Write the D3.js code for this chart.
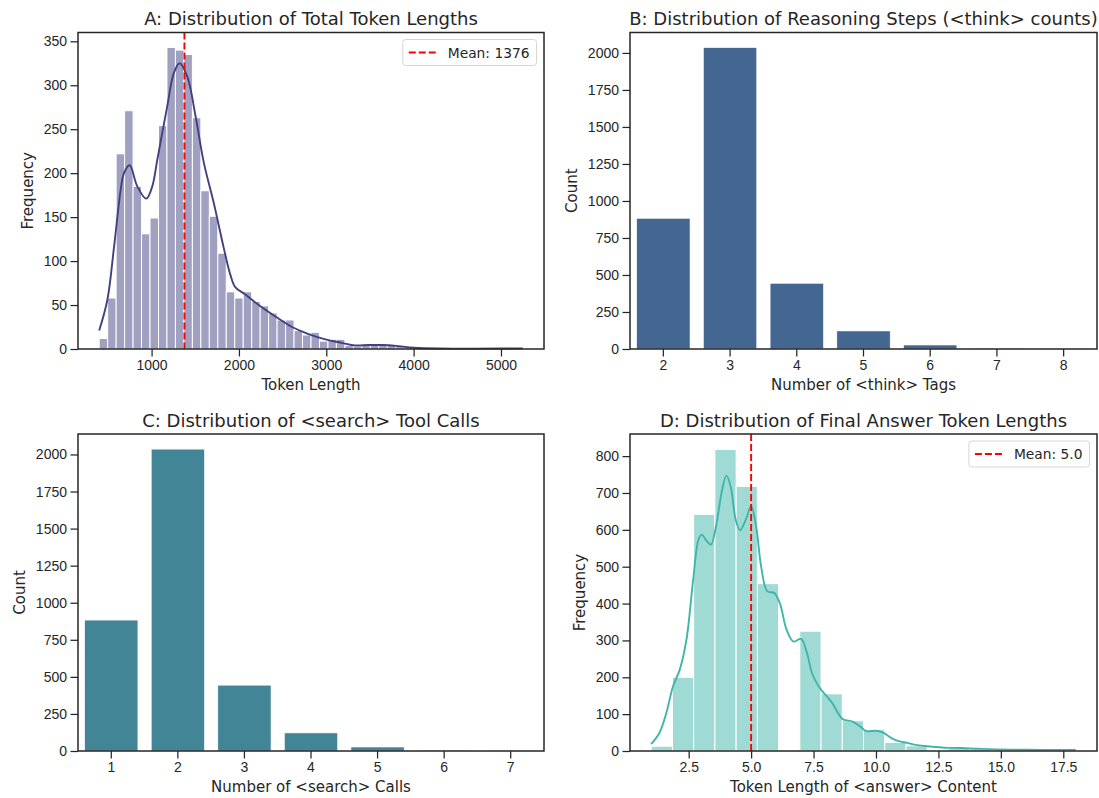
<!DOCTYPE html>
<html>
<head>
<meta charset="utf-8">
<script src="https://cdn.jsdelivr.net/npm/d3@7"></script>
<style>
  body { margin: 0; background: #fff; }
  svg { display: block; font-family: "DejaVu Sans", sans-serif; }
  .tick text { fill: #262626; font-size: 14px; }
  .tick line { stroke: #262626; stroke-width: 1.25; }
</style>
</head>
<body>
<div id="chart"></div>
<script>
// ---- data ----

// A: total token length histogram (50 bins from 400, width 97)
var tokenBinStart = 400;
var tokenBinWidth = 97;
var tokenCounts = [12, 58, 222, 271, 185, 131, 149, 254, 343, 340,
                   335, 263, 180, 151, 109, 65, 58, 65, 54, 49,
                   41, 33, 33, 21, 16, 19, 9, 11, 11, 4,
                   3, 4, 5, 4, 5, 4, 3, 3, 2, 2,
                   1, 1, 1, 1, 0, 1, 0, 1, 0, 1];
var tokenKdeX = [400, 494, 570, 646, 684, 749, 836, 939, 1008, 1065, 1179, 1255, 1320, 1408,
                 1503, 1598, 1712, 1826, 1903, 1960, 2074, 2226, 2417, 2608, 2798, 2989,
                 3179, 3331, 3483, 3650, 3800, 4000, 4300, 4700, 5000, 5250];
var tokenKdeY = [21, 56, 116, 181, 200, 209, 185, 171, 185, 215, 276, 314, 325, 310,
                 265, 212, 166, 115, 84, 70, 62, 50, 37, 25, 17, 11,
                 7, 4, 4.5, 4.5, 3.5, 1.5, 0.6, 0.4, 0.5, 0.7];
var tokenMean = 1376;
var tokenTicks = [1000, 2000, 3000, 4000, 5000];

// B: <think> tag counts
var thinkCategories = ['2', '3', '4', '5', '6', '7', '8'];
var thinkCounts = [883, 2036, 444, 122, 27, 2, 1];

// C: <search> call counts
var searchCategories = ['1', '2', '3', '4', '5', '6', '7'];
var searchCounts = [883, 2036, 444, 122, 27, 2, 1];

// D: answer token length histogram (20 bins from 1, width 0.85)
var answerBinStart = 1;
var answerBinWidth = 0.85;
var answerCounts = [13, 200, 642, 818, 718, 454, 0, 325, 155, 82,
                    58, 23, 14, 0, 9, 5, 3, 2, 1, 2];
var answerKdeX = [1.0, 1.32, 1.6, 1.87, 2.14, 2.41, 2.68, 2.89, 3.02, 3.23, 3.39, 3.57, 3.84,
                  4.01, 4.18, 4.38, 4.56, 4.79, 5.0, 5.2, 5.4, 5.65, 5.92, 6.15, 6.42, 6.69,
                  7.0, 7.24, 7.44, 7.71, 7.98, 8.25, 8.66, 9.06, 9.34, 9.61, 10.01, 10.29,
                  10.57, 10.84, 11.24, 11.65, 12.2, 12.74, 13.41, 14.1, 14.77, 16.13, 17.0, 18.0];
var answerKdeY = [19, 48, 102, 175, 220, 302, 465, 573, 587, 569, 560, 601, 709,
                  747, 718, 628, 599, 628, 664, 610, 501, 433, 429, 401, 329, 297,
                  304, 265, 211, 175, 152, 130, 87, 80, 68, 54, 55, 50,
                  37, 28, 22, 16, 12, 9, 8, 6, 4.5, 3.5, 3, 3];
var answerMean = 5.0;
var answerTicks = [2.5, 5.0, 7.5, 10.0, 12.5, 15.0, 17.5];

// ---- layout ----
var width = 1099, height = 798;
var ink = '#262626';

var svg = d3.select('#chart').append('svg')
    .attr('width', width)
    .attr('height', height);

function makePanel(box, title, xlabel, ylabel) {
    var g = svg.append('g');
    g.append('text')
        .attr('x', (box.x0 + box.x1) / 2)
        .attr('y', box.y0 - 7.5)
        .attr('text-anchor', 'middle')
        .attr('font-size', '18px')
        .attr('fill', ink)
        .text(title);
    g.append('text')
        .attr('x', (box.x0 + box.x1) / 2)
        .attr('y', box.y1 + 41)
        .attr('text-anchor', 'middle')
        .attr('font-size', '15px')
        .attr('fill', ink)
        .text(xlabel);
    g.ylabel = ylabel;
    return g;
}

function styleAxis(axisG) {
    axisG.select('.domain').remove();
}

function drawYAxis(g, box, y, ticks) {
    var ax = g.append('g')
        .attr('transform', 'translate(' + box.x0 + ',0)')
        .call(d3.axisLeft(y).tickValues(ticks).tickFormat(d3.format('d'))
            .tickSize(7.5).tickPadding(3.5));
    styleAxis(ax);
    var bb = ax.node().getBBox();
    g.append('text')
        .attr('transform', 'translate(' + (box.x0 + bb.x - 11) + ',' + ((box.y0 + box.y1) / 2) + ') rotate(-90)')
        .attr('text-anchor', 'middle')
        .attr('font-size', '15px')
        .attr('fill', ink)
        .text(g.ylabel);
}

function drawXAxis(g, box, axis) {
    var ax = g.append('g')
        .attr('transform', 'translate(0,' + box.y1 + ')')
        .call(axis.tickSize(7.5).tickPadding(3.5));
    styleAxis(ax);
}

function drawFrame(g, box) {
    g.append('rect')
        .attr('x', box.x0)
        .attr('y', box.y0)
        .attr('width', box.x1 - box.x0)
        .attr('height', box.y1 - box.y0)
        .attr('fill', 'none')
        .attr('stroke', ink)
        .attr('stroke-width', 1.5);
}

function drawLegend(g, right, top, label) {
    var lg = g.append('g');
    var text = lg.append('text')
        .attr('font-size', '13.8px')
        .attr('fill', ink)
        .text(label);
    var tw = text.node().getComputedTextLength();
    var bw = 6 + 28 + 11 + tw + 7;
    var x0 = right - bw;
    lg.insert('rect', 'text')
        .attr('x', x0)
        .attr('y', top)
        .attr('width', bw)
        .attr('height', 26)
        .attr('rx', 3)
        .attr('fill', '#fff')
        .attr('fill-opacity', 0.8)
        .attr('stroke', '#d6d6d6')
        .attr('stroke-width', 1);
    lg.append('line')
        .attr('x1', x0 + 6).attr('x2', x0 + 34)
        .attr('y1', top + 13).attr('y2', top + 13)
        .attr('stroke', 'red')
        .attr('stroke-width', 1.9)
        .attr('stroke-dasharray', '7,3');
    text.attr('x', x0 + 45).attr('y', top + 18);
}

function drawMean(g, box, x, value) {
    g.append('line')
        .attr('x1', x(value)).attr('x2', x(value))
        .attr('y1', box.y0).attr('y2', box.y1)
        .attr('stroke', 'red')
        .attr('stroke-width', 1.9)
        .attr('stroke-dasharray', '7,3');
}

function histogram(box, opts) {
    var g = makePanel(box, opts.title, opts.xlabel, 'Frequency');
    var x = d3.scaleLinear().domain(opts.xDomain).range([box.x0, box.x1]);
    var y = d3.scaleLinear().domain(opts.yDomain).range([box.y1, box.y0]);

    var bins = opts.counts.map(function(c, i) {
        return { x0: opts.binStart + i * opts.binWidth, x1: opts.binStart + (i + 1) * opts.binWidth, count: c };
    });

    g.append('g').selectAll('rect')
        .data(bins.filter(function(d) { return d.count > 0; }))
        .enter()
        .append('rect')
        .attr('x', function(d) { return x(d.x0); })
        .attr('y', function(d) { return y(d.count); })
        .attr('width', function(d) { return x(d.x1) - x(d.x0); })
        .attr('height', function(d) { return y(0) - y(d.count); })
        .attr('fill', opts.color)
        .attr('fill-opacity', 0.5)
        .attr('stroke', '#fff')
        .attr('stroke-width', 1);

    var kde = opts.kdeX.map(function(v, i) { return [v, opts.kdeY[i]]; });
    var line = d3.line()
        .x(function(d) { return x(d[0]); })
        .y(function(d) { return y(d[1]); })
        .curve(d3.curveCatmullRom.alpha(0.5));
    g.append('path')
        .datum(kde)
        .attr('d', line)
        .attr('fill', 'none')
        .attr('stroke', opts.color)
        .attr('stroke-width', 1.9);

    drawMean(g, box, x, opts.mean);

    drawXAxis(g, box, d3.axisBottom(x).tickValues(opts.xTicks).tickFormat(opts.xFormat));
    drawYAxis(g, box, y, d3.range(opts.yDomain[0], opts.yDomain[1], opts.yStep));
    drawFrame(g, box);
    drawLegend(g, box.x1 - 7.5, box.y0 + 7, opts.legend);
}

function barChart(box, opts) {
    var g = makePanel(box, opts.title, opts.xlabel, 'Count');
    var x = d3.scaleBand().domain(opts.categories).range([box.x0, box.x1])
        .paddingInner(0.2).paddingOuter(0.1);
    var y = d3.scaleLinear().domain(opts.yDomain).range([box.y1, box.y0]);

    g.append('g').selectAll('rect')
        .data(opts.counts)
        .enter()
        .append('rect')
        .attr('x', function(d, i) { return x(opts.categories[i]); })
        .attr('y', function(d) { return y(d); })
        .attr('width', x.bandwidth())
        .attr('height', function(d) { return y(0) - y(d); })
        .attr('fill', opts.color)
        .attr('stroke', '#fff')
        .attr('stroke-width', 0.6);

    drawXAxis(g, box, d3.axisBottom(x));
    drawYAxis(g, box, y, d3.range(0, 2001, 250));
    drawFrame(g, box);
}

histogram({ x0: 78, x1: 544, y0: 32.5, y1: 349 }, {
    title: 'A: Distribution of Total Token Lengths',
    xlabel: 'Token Length',
    counts: tokenCounts, binStart: tokenBinStart, binWidth: tokenBinWidth,
    kdeX: tokenKdeX, kdeY: tokenKdeY, mean: tokenMean,
    xDomain: [157.5, 5492.5], yDomain: [0, 360], yStep: 50,
    xTicks: tokenTicks, xFormat: d3.format('d'),
    color: '#414181', legend: 'Mean: ' + tokenMean
});

barChart({ x0: 630, x1: 1097, y0: 32.5, y1: 349 }, {
    title: 'B: Distribution of Reasoning Steps (<think> counts)',
    xlabel: 'Number of <think> Tags',
    categories: thinkCategories, counts: thinkCounts,
    yDomain: [0, 2138], color: '#446791'
});

barChart({ x0: 78, x1: 544, y0: 434, y1: 751 }, {
    title: 'C: Distribution of <search> Tool Calls',
    xlabel: 'Number of <search> Calls',
    categories: searchCategories, counts: searchCounts,
    yDomain: [0, 2138], color: '#428597'
});

histogram({ x0: 630, x1: 1097, y0: 434, y1: 751 }, {
    title: 'D: Distribution of Final Answer Token Lengths',
    xlabel: 'Token Length of <answer> Content',
    counts: answerCounts, binStart: answerBinStart, binWidth: answerBinWidth,
    kdeX: answerKdeX, kdeY: answerKdeY, mean: answerMean,
    xDomain: [0.15, 18.85], yDomain: [0, 860], yStep: 100,
    xTicks: answerTicks, xFormat: d3.format('.1f'),
    color: '#40b5a9', legend: 'Mean: ' + answerMean.toFixed(1)
});
</script>
</body>
</html>
